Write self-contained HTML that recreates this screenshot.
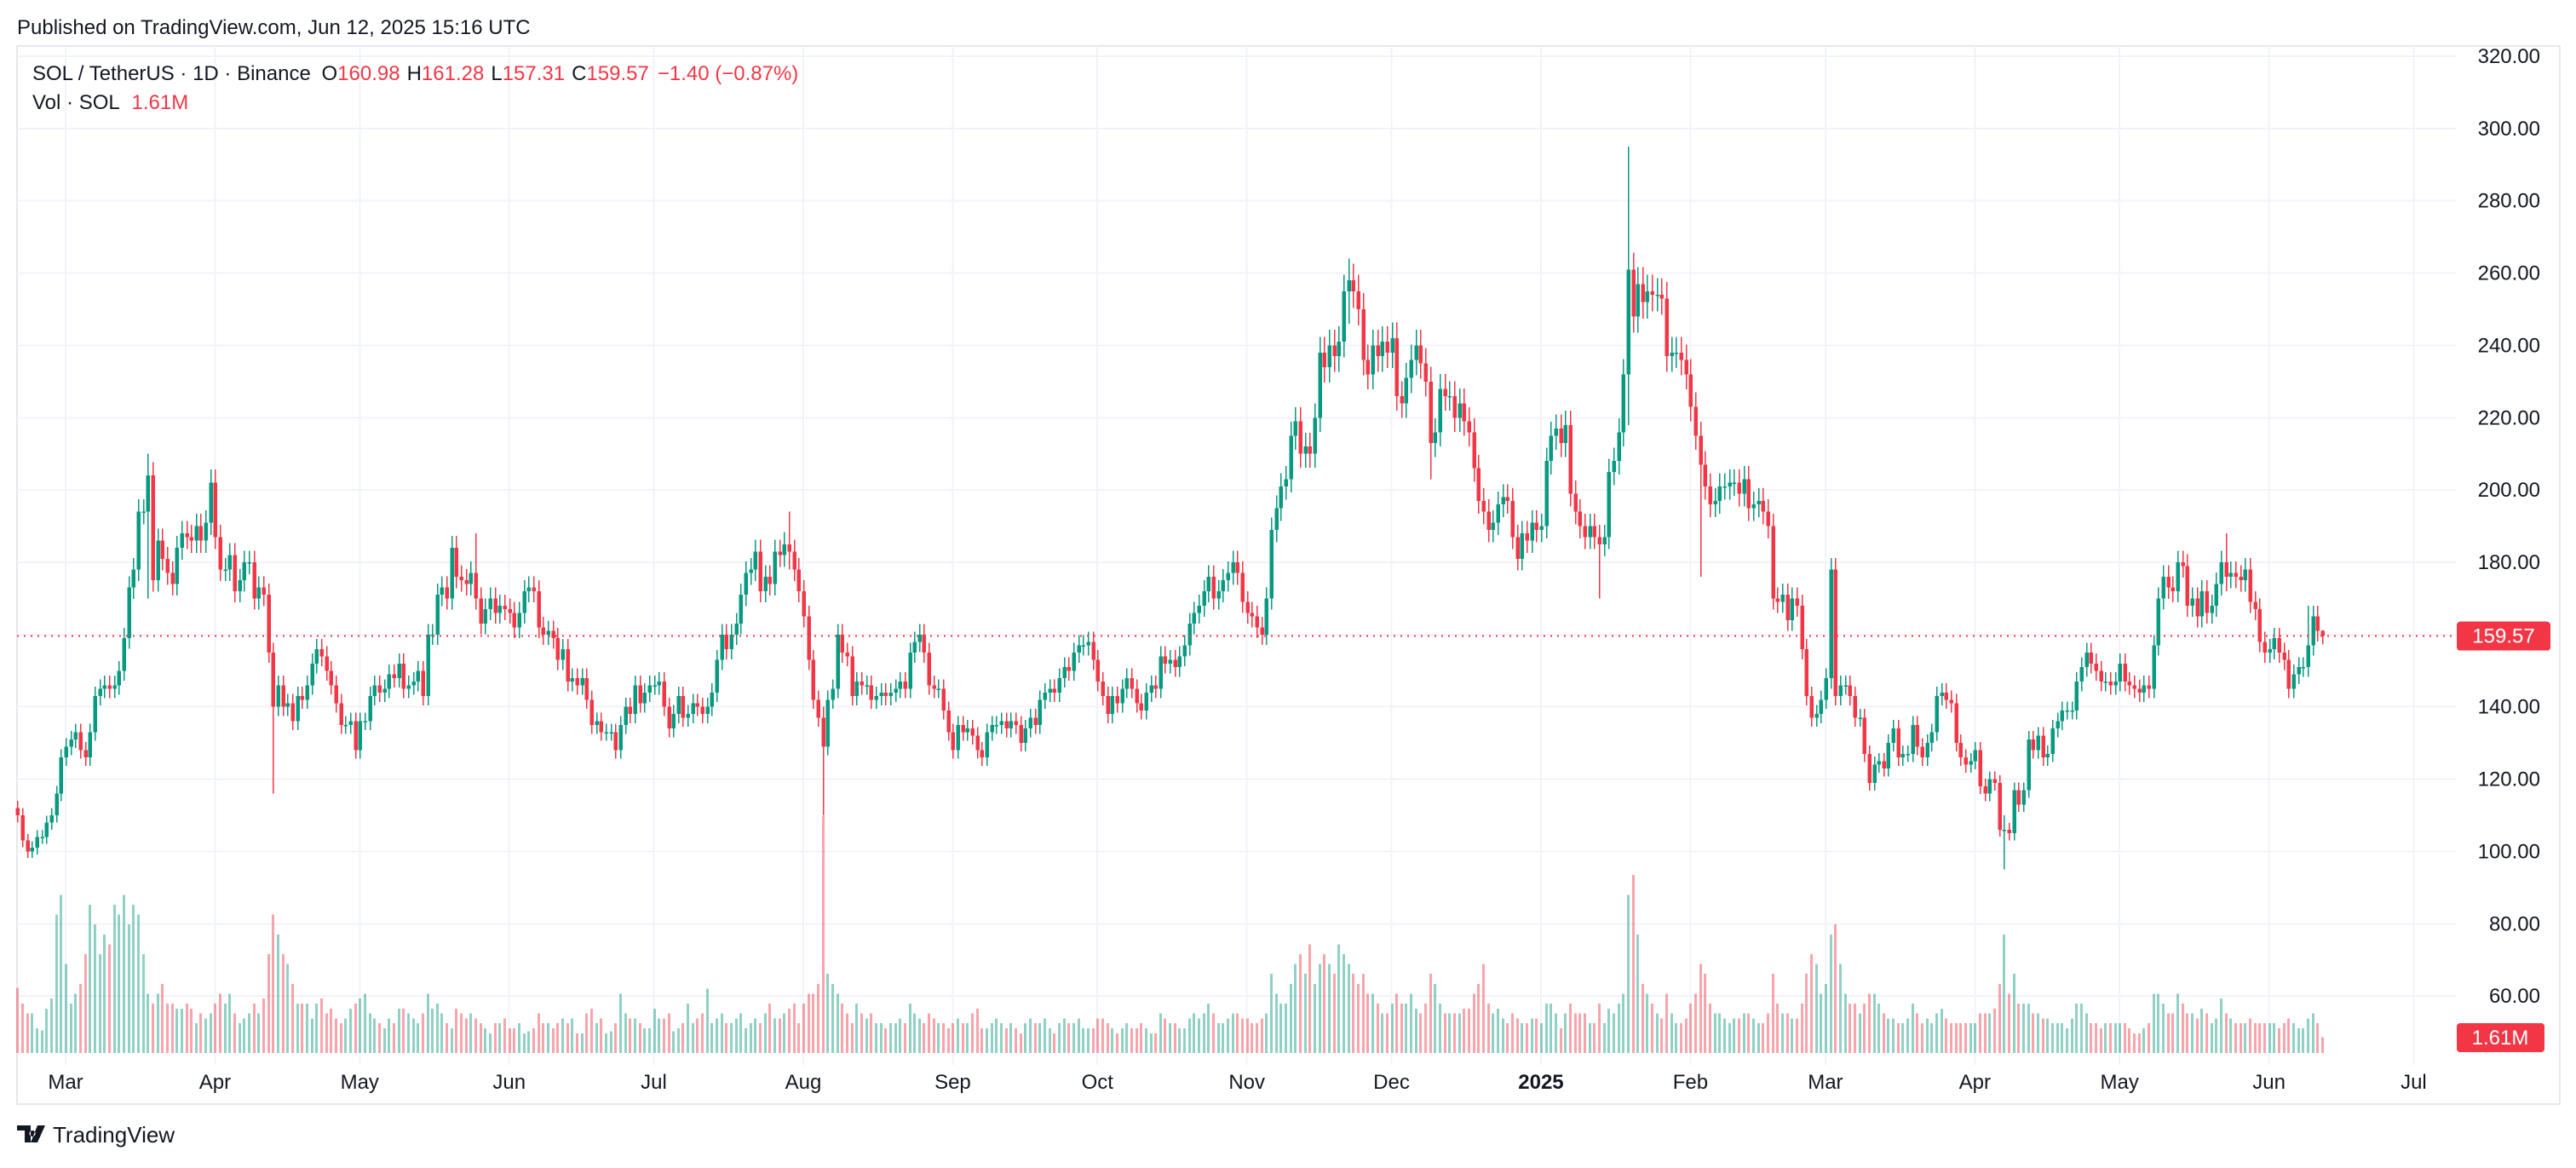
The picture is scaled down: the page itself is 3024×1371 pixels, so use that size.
<!DOCTYPE html>
<html><head><meta charset="utf-8">
<style>
html,body{margin:0;padding:0;background:#fff;}
body{width:3024px;height:1366px;overflow:hidden;font-family:"Liberation Sans",sans-serif;}
svg text{font-family:"Liberation Sans",sans-serif;}
</style></head>
<body>
<svg id="chart" width="3024" height="1366" xmlns="http://www.w3.org/2000/svg" shape-rendering="crispEdges">
  <text x="20" y="40" font-size="24" fill="#131722">Published on TradingView.com, Jun 12, 2025 15:16 UTC</text>
  <rect x="20" y="54" width="2985" height="1242" fill="none" stroke="#e6e8ee" stroke-width="2"/>
  <g id="grid"></g>
  <g id="vol"></g>
  <g id="candles"></g>
  <g id="yaxis"></g>
  <g id="xaxis"></g>
  <text x="38" y="94" font-size="24" fill="#131722">SOL / TetherUS · 1D · Binance <tspan dx="6">O</tspan><tspan fill="#f23645">160.98</tspan><tspan dx="8">H</tspan><tspan fill="#f23645">161.28</tspan><tspan dx="8">L</tspan><tspan fill="#f23645">157.31</tspan><tspan dx="8">C</tspan><tspan fill="#f23645">159.57</tspan><tspan dx="10" fill="#f23645">−1.40 (−0.87%)</tspan></text>
  <text x="38" y="128" font-size="24" fill="#131722">Vol · SOL <tspan dx="8" fill="#f23645">1.61M</tspan></text>
  <g>
    <path d="M20 1321h16v20h-7v-14h-9z M38 1327a3.5 3.5 0 1 0 0.1 0z M44 1321h9l-9 20h-8z" fill="#131722"/>
    <text x="62" y="1341" font-size="26" fill="#131722">TradingView</text>
  </g>
</svg>
<script>
const months=["Mar","Apr","May","Jun","Jul","Aug","Sep","Oct","Nov","Dec","2025","Feb","Mar","Apr","May","Jun","Jul"];
const monthStartIdx=[10,41,71,102,132,163,194,224,255,285,316,347,375,406,436,467,497];
const priceTicks=[60,80,100,120,140,160,180,200,220,240,260,280,300,320];
const cFeb24=[110,103,100,101,104,104,108,110,116,126];
const cMar24=[129,131,133,128,126,133,143,145,146,145,146,150,159,173,178,194,194,204,175,186,181,177,174,184,188,187,186,190,186,191,202];
const cApr24=[187,178,178,182,172,175,180,180,170,173,171,155,140,146,140,141,136,143,142,146,152,156,154,150,146,141,135,135,136,128];
const cMay24=[136,136,143,146,144,145,149,148,152,145,146,147,150,143,160,160,171,173,170,184,176,175,174,177,170,163,167,170,166,168,167];
const cJun24=[166,162,166,172,173,172,162,160,161,159,153,156,147,148,146,148,142,135,136,133,133,133,128,135,140,138,146,141,144,146];
const cJul24=[146,147,140,134,138,143,137,138,141,140,138,140,144,153,160,156,160,163,171,177,178,183,172,176,174,183,182,185,183,178,172];
const cAug24=[165,153,142,137,129,142,145,160,155,154,143,147,146,146,142,143,144,143,144,145,147,145,155,158,160,155,146,145,145,139,133];
const cSep24=[128,135,133,134,132,128,126,133,135,135,136,134,136,135,130,134,137,135,142,144,145,144,148,151,150,155,157,157,158,153];
const cOct24=[147,143,138,143,141,145,148,145,141,139,144,146,145,154,152,153,151,154,157,163,166,168,172,176,170,172,175,177,180,177,169];
const cNov24=[166,165,162,160,170,189,195,201,203,215,219,210,212,210,220,238,234,240,237,241,255,258,255,250,236,232,240,237,241,238];
const cDec24=[242,226,224,231,236,240,235,230,213,216,228,226,226,220,224,219,216,206,197,194,189,191,196,198,197,187,181,188,186,191,189];
const cJan25=[190,208,215,217,213,218,199,194,190,187,190,187,185,187,205,208,216,232,261,248,257,252,255,254,254,253,237,238,238,236,232];
const cFeb25=[223,215,207,201,196,197,201,201,202,202,199,203,195,196,197,194,190,170,169,171,164,170,168,156,143,137,138,142];
const cMar25=[148,178,143,146,146,143,137,137,127,119,124,125,123,130,134,126,127,127,135,129,126,130,133,143,144,142,141,130,126,124,125];
const cApr25=[128,118,116,120,119,106,106,105,117,113,117,131,128,132,126,127,134,136,139,139,139,147,151,155,152,150,147,147,146,147];
const cMay25=[152,147,146,145,144,146,145,157,170,176,173,172,180,179,168,170,165,172,166,168,174,180,176,177,176,175,178,169,167,158,155];
const cJun25=[156,159,155,153,145,149,151,151,157,165,160.98,159.57];
const vFeb24=[6.6,5,4,4,2.5,2.3,4.5,5.5,14,16];
const vMar24=[9,5,6,7,10,15,13,10,12,11,15,14,16,13,15,14,10,6,5,6,7,5,5,4.5,4.5,5,4.5,3,4,3.5,4];
const vApr24=[5,6,5,6,4,3,3.5,4,5,4,5.5,10,14,12,10,9,7,5,5,5,3.5,5,5.5,4,4.5,3.5,3,3.5,4.5,5];
const vMay24=[5.5,6,4,3.5,3,2.5,3.5,3,4.5,4.5,4,3.5,3,4,6,4.5,5,4,3,2.5,4.5,4,3.5,4,3.5,3,2.5,2,3,3,3.5];
const vJun24=[2.5,2.5,3,2,2.2,2.5,4,3,3,2.5,3,3.5,3,3.5,2,2,4,4.5,3,3.5,2,2.2,3,6,4,3.5,3.5,3,2.5,2.5];
const vJul24=[4.5,3.5,3.5,4,2.2,2.5,3,5,3,3.5,4,6.5,3,3.5,4,3,3,3.5,4,2.5,3,3.5,3,4,5,3.5,3.5,4,4.5,5,3];
const vAug24=[5,6,6,7,24,8,7,6,5,4,3,5,4,3.5,4,3,3,2.5,3,3,3.5,3,5,4,3.5,3,4,3.5,3,3,2.5];
const vSep24=[3,3.5,3,3,4,4.5,2.5,2.5,3,3.5,3,2.5,3,2.5,2,3,3.5,3,3,3.5,2.5,2,3,3.5,3,3,3.5,2.5,2.5,2.5];
const vOct24=[3.5,3.5,3,2.5,2,2.5,3,2.5,2.5,3,2.5,2,2,4,3.5,3,3,2.5,2.5,3.5,4,3.5,4,5,4,3,3,3.5,4,4,3.5];
const vNov24=[3.5,3,3,3.5,4,8,6,5,5,7,9,10,8,11,7,9,10,9,8,11,10,9,8,7,8,6,6,5,4,4];
const vDec24=[5,6,5,5,6,4.5,4,5,8,7,5,4,4,4,4,4.5,4.5,6,7,9,5,4,4.5,3.5,3,4,3.5,3,3,3.5,3.5];
const vJan25=[3,5,5,4,2.5,4,5,4,4,4,3,3,5,3,4.5,4,5,6,16,18,12,7,6,5,4,3.5,6,4,3,3,3.5];
const vFeb25=[5,6,9,8,5,4,4,3.5,3,3.5,3.5,4,4,3.5,3,3,4,8,5,4,4,3.5,3.5,5,8,10,9,6];
const vMar25=[7,12,13,9,6,5,5,4,5,6,6,5,4,3.5,3.5,3,3,3.5,5,4,3,3.5,3,4,4.5,3.5,3,3,3,3,3];
const vApr25=[3,4,4,4,4.5,7,12,6,8,5,5,5,4,4,3.5,3.5,3,3,3,2.5,3.5,5,5,4,3,3,2.5,3,3,3];
const vMay25=[3,3,2.5,2,2,2.5,3,6,6,5,4,4,6,5,4,4,3.5,4.5,4,3,3.5,5.5,4,3.5,3,3,3,3.5,3,3,3];
const vJun25=[3,3,2.5,3,3.5,3,2.5,2.5,3.5,4,3,1.61];
// notable wick extremes: [day index, high, low]
const wickSpikes=[[6,109,104],[27,210,170],[53,156,116],[95,188,172],[160,194,178],[167,140,110],[276,264,246],[293,230,203],[334,295,218],[328,188,170],[349,210,176],[376,180,145],[412,110,95],[458,188,172],[475,168,160]];
const firstOpen=112, lastHigh=161.28, lastLow=157.31;

const closes=[].concat(cFeb24,cMar24,cApr24,cMay24,cJun24,cJul24,cAug24,cSep24,cOct24,cNov24,cDec24,cJan25,cFeb25,cMar25,cApr25,cMay25,cJun25);
const vols=[].concat(vFeb24,vMar24,vApr24,vMay24,vJun24,vJul24,vAug24,vSep24,vOct24,vNov24,vDec24,vJan25,vFeb25,vMar25,vApr25,vMay25,vJun25);

const NS="http://www.w3.org/2000/svg";
const X0=77, DX=5.66, PANE_R=2883, PANE_L=20;
function x(i){return X0+(i-10)*DX;}
function y(p){return 66+(320-p)*4.243;}
const VBASE=1236, VK=11.6;
function vy(v){return VBASE-v*VK;}
function mk(tag,attrs,parent){const e=document.createElementNS(NS,tag);for(const k in attrs)e.setAttribute(k,attrs[k]);parent.appendChild(e);return e;}

const grid=document.getElementById('grid');
priceTicks.forEach(t=>{
  const l=mk('line',{x1:PANE_L,x2:PANE_R,y1:y(t),y2:y(t),stroke:'#f0f3fa','stroke-width':2},grid);
  
  
});
monthStartIdx.forEach(i=>{
  const l=mk('line',{x1:x(i),x2:x(i),y1:54,y2:1250,stroke:'#f0f3fa','stroke-width':2},grid);
  
  
});

const spikes={};wickSpikes.forEach(s=>spikes[s[0]]=s);
const cg=document.getElementById('candles'), vg=document.getElementById('vol');
for(let i=0;i<closes.length;i++){
  const o=i===0?firstOpen:closes[i-1], c=closes[i];
  const up=c>=o;
  let hi=Math.max(o,c)*1.018, lo=Math.min(o,c)*0.982;
  if(spikes[i]){hi=Math.max(hi,spikes[i][1]);lo=Math.min(lo,spikes[i][2]);}
  if(i===closes.length-1){hi=lastHigh;lo=lastLow;}
  const col=up?'#089981':'#f23645';
  const cx=Math.round(x(i));
  const w=mk('rect',{x:cx,y:y(hi),width:1.6,height:Math.max(1,y(lo)-y(hi)),fill:col},cg);
  
  
  const top=y(Math.max(o,c)), bh=Math.max(1.5,Math.abs(y(o)-y(c)));
  const b=mk('rect',{x:cx-1.6,y:top,width:4.8,height:bh,fill:col},cg);
  
  
  const v=vols[i]||0;
  const vb=mk('rect',{x:cx-1.2,y:vy(v),width:3.4,height:VBASE-vy(v),fill:up?'rgba(8,153,129,0.45)':'rgba(242,54,69,0.45)'},vg);
  
  
}

const ya=document.getElementById('yaxis');
priceTicks.forEach(t=>{
  const tx=mk('text',{x:2982,y:y(t)+8,'font-size':24,'text-anchor':'end',fill:'#131722'},ya);
  tx.textContent=t.toFixed(2);
  
  
});
const last=closes[closes.length-1];
const pl=mk('line',{x1:PANE_L,x2:PANE_R,y1:y(last),y2:y(last),stroke:'#f23645','stroke-width':2,'stroke-dasharray':'2 6'},ya);


const pb=mk('rect',{x:2884,y:y(last)-17,width:110,height:34,rx:4,fill:'#f23645'},ya);


const pt=mk('text',{x:2939,y:y(last)+8,'font-size':24,'text-anchor':'middle',fill:'#fff'},ya);
pt.textContent=last.toFixed(2);


const lv=vols[vols.length-1];
const vbx=mk('rect',{x:2884,y:1201,width:103,height:34,rx:4,fill:'#f23645'},ya);


const vt=mk('text',{x:2935,y:1226,'font-size':24,'text-anchor':'middle',fill:'#fff'},ya);
vt.textContent=lv+'M';



const xa=document.getElementById('xaxis');
months.forEach((m,k)=>{
  const tx=mk('text',{x:x(monthStartIdx[k]),y:1278,'font-size':24,'text-anchor':'middle',fill:'#131722','font-weight':m==='2025'?'bold':'normal'},xa);
  tx.textContent=m;
  
  
});
</script>
</body></html>
